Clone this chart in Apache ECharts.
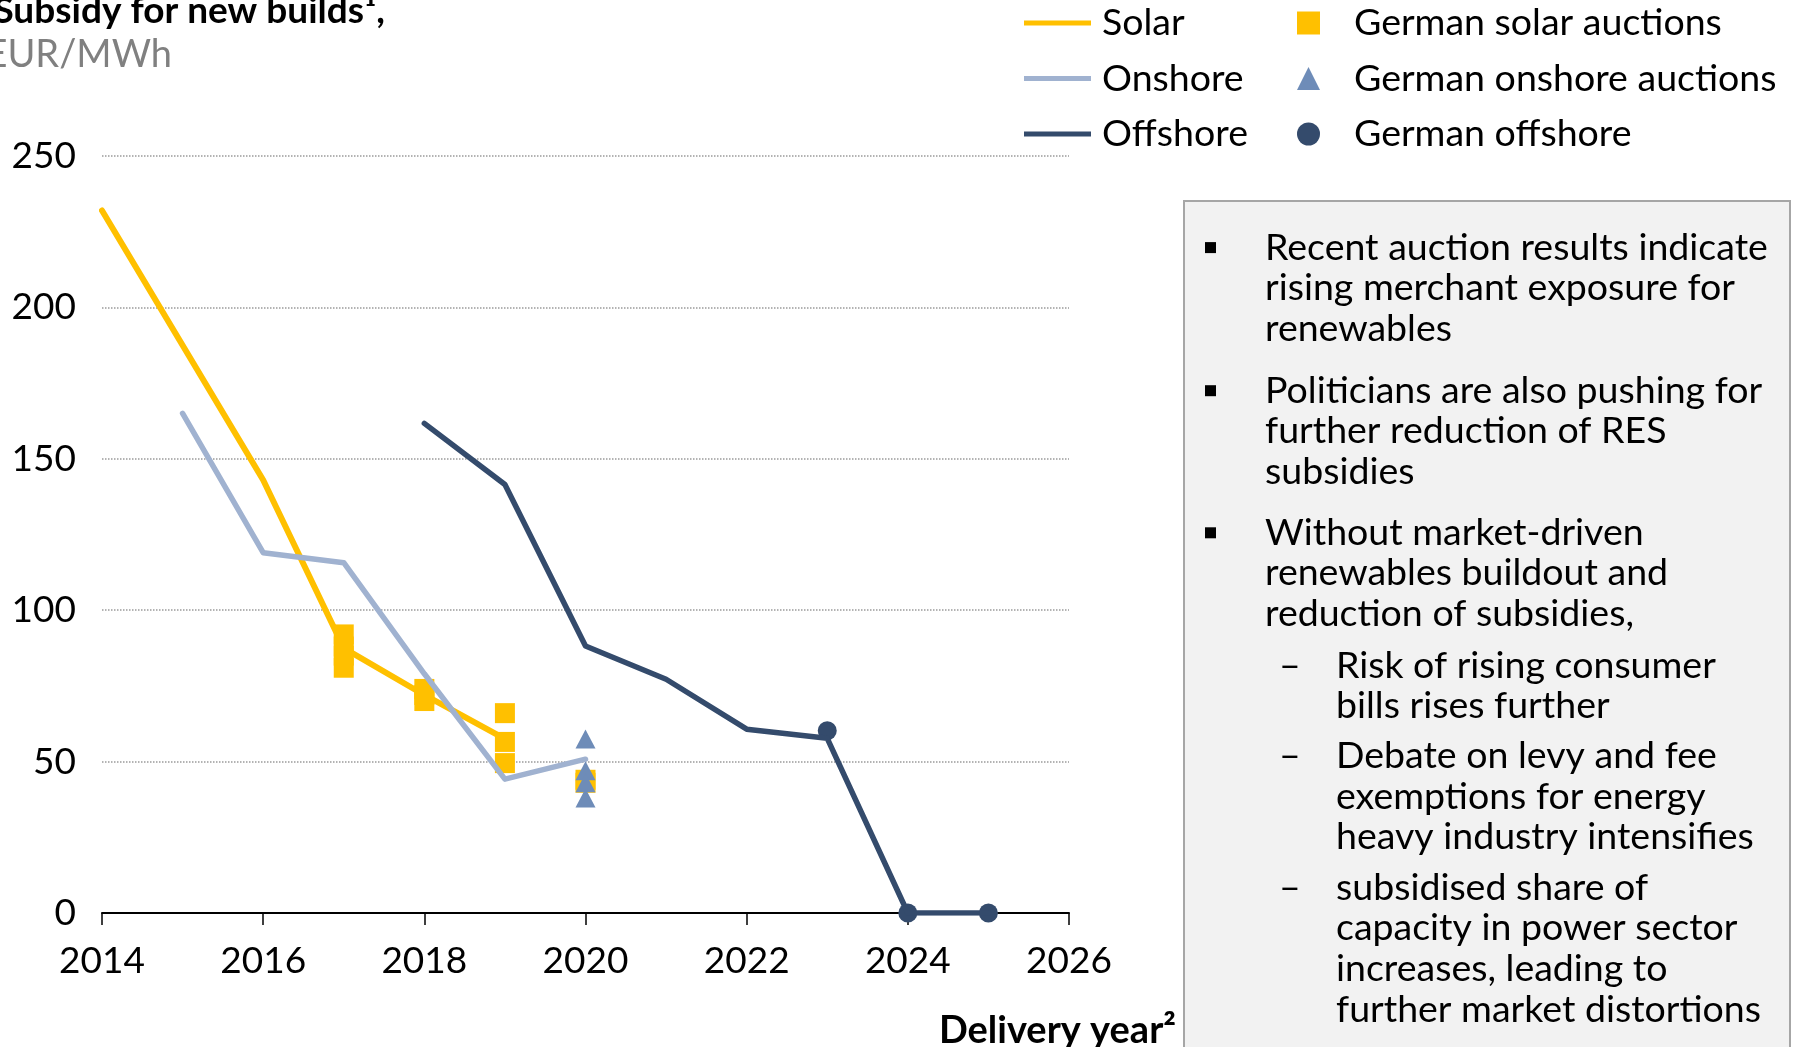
<!DOCTYPE html>
<html>
<head>
<meta charset="utf-8">
<script src="https://cdn.jsdelivr.net/npm/echarts@6/dist/echarts.min.js"></script>
<style>
html,body{margin:0;padding:0;background:#fff;}
#chart{width:1796px;height:1047px;}
</style>
</head>
<body>
<div id="chart"></div>
<script>
// ---- Data ----
const solarYears = [2014, 2016, 2017, 2018, 2019];
const solarValues = [232, 143, 87.5, 72, 57.5];
const onshoreYears = [2015, 2016, 2017, 2018, 2019, 2020];
const onshoreValues = [165, 119, 115.7, 79, 44.2, 50.8];
const offshoreYears = [2018, 2019, 2020, 2021, 2022, 2023, 2024, 2025];
const offshoreValues = [161.7, 141.5, 88.2, 77.2, 60.7, 57.7, 0, 0];
const solarAuctionYears = [2017, 2017, 2017, 2017, 2018, 2018, 2018, 2019, 2019, 2019, 2020, 2020];
const solarAuctionValues = [92, 88, 85, 81, 74, 72, 70, 66, 56.5, 49.5, 44, 43];
const onshoreAuctionYears = [2020, 2020, 2020, 2020];
const onshoreAuctionValues = [57.5, 47, 43, 38];
const offshoreAuctionYears = [2023, 2024, 2025];
const offshoreAuctionValues = [60.2, 0, 0];
const xMin = 2014, xMax = 2026, xStep = 2;
const yMin = 0, yMax = 250, yStep = 50;
const lineNames = ['Solar', 'Onshore', 'Offshore'];
const markerNames = ['German solar auctions', 'German onshore auctions', 'German offshore'];
const titleText = 'Subsidy for new builds\u00B9,';
const unitText = 'EUR/MWh';
const xAxisTitle = 'Delivery year\u00B2';
const bullets = [
  ['Recent auction results indicate', 'rising merchant exposure for', 'renewables'],
  ['Politicians are also pushing for', 'further reduction of RES', 'subsidies'],
  ['Without market-driven', 'renewables buildout and', 'reduction of subsidies,']
];
const subBullets = [
  ['Risk of rising consumer', 'bills rises further'],
  ['Debate on levy and fee', 'exemptions for energy', 'heavy industry intensifies'],
  ['subsidised share of', 'capacity in power sector', 'increases, leading to', 'further market distortions']
];

// ---- Styles ----
const C_SOLAR = '#FFC000';
const C_ONSHORE = '#A0B2D0';
const C_ONSHORE_M = '#6E8CB8';
const C_OFFSHORE = '#344B6C';
const FONT = 'Lato';
const BODY = 37.5;

const zip = (xs, ys) => xs.map((x, i) => [x, ys[i]]);

const chart = echarts.init(document.getElementById('chart'), null, {renderer: 'canvas'});

// text box graphics
const LH = 40.6;
const bulletTops = [227.3, 370.4, 512.5];
const subTops = [645.3, 735.8, 867.5];
const graphics = [
  {type: 'rect', shape: {x: 1184, y: 201, width: 606, height: 880}, style: {fill: '#F2F2F2', stroke: '#A6A6A6', lineWidth: 2}, z: 0},
  {type: 'text', style: {text: titleText, x: 385, y: 11, align: 'right', verticalAlign: 'middle', font: 'bold 37px ' + FONT, fill: '#000'}},
  {type: 'text', style: {text: unitText, x: 172, y: 55, align: 'right', verticalAlign: 'middle', font: '38px ' + FONT, fill: '#808080'}}
];
bullets.forEach((lines, i) => {
  graphics.push({type: 'rect', shape: {x: 1205, y: bulletTops[i] + LH / 2 - 5.5, width: 11, height: 11}, style: {fill: '#000'}, z: 1});
  graphics.push({type: 'text', style: {text: lines.join('\n'), x: 1265, y: bulletTops[i], verticalAlign: 'top', lineHeight: LH, font: BODY + 'px ' + FONT, fill: '#000'}, z: 1});
});
subBullets.forEach((lines, i) => {
  graphics.push({type: 'text', style: {text: '\u2013', x: 1279, y: subTops[i], verticalAlign: 'top', lineHeight: LH, font: BODY + 'px ' + FONT, fill: '#000'}, z: 1});
  graphics.push({type: 'text', style: {text: lines.join('\n'), x: 1336, y: subTops[i], verticalAlign: 'top', lineHeight: LH, font: BODY + 'px ' + FONT, fill: '#000'}, z: 1});
});

const option = {
  animation: false,
  backgroundColor: '#fff',
  textStyle: {fontFamily: FONT},
  grid: {left: 102, right: 727, top: 156, bottom: 134, containLabel: false, outerBoundsMode: 'none'},
  legend: [
    {
      data: lineNames.map(n => ({name: n, icon: 'rect'})),
      orient: 'vertical', left: 1019, top: -2,
      itemWidth: 67, itemHeight: 5, itemGap: 15.5,
      textStyle: {fontSize: BODY, fontFamily: FONT, color: '#000', lineHeight: 40, padding: [0, 0, 0, 6]},
      selectedMode: false
    },
    {
      data: [{name: markerNames[0], icon: 'rect'}, {name: markerNames[1], icon: 'triangle'}, {name: markerNames[2], icon: 'circle'}],
      orient: 'vertical', left: 1292, top: -2,
      itemWidth: 23, itemHeight: 23, itemGap: 15.5,
      itemStyle: {opacity: 1},
      textStyle: {fontSize: BODY, fontFamily: FONT, color: '#000', lineHeight: 40, padding: [0, 0, 0, 29]},
      selectedMode: false
    }
  ],
  xAxis: {
    type: 'value', min: xMin, max: xMax, interval: xStep,
    name: xAxisTitle, nameLocation: 'end', nameGap: 107,
    nameTextStyle: {fontSize: 38, fontWeight: 'bold', fontFamily: FONT, color: '#000', align: 'right', verticalAlign: 'top', padding: [99, 0, 0, 0]},
    axisLine: {show: true, lineStyle: {color: '#000', width: 2}},
    axisTick: {show: true, length: 12, lineStyle: {color: '#000', width: 1.5}},
    axisLabel: {fontSize: 37, fontFamily: FONT, color: '#000', margin: 30, formatter: v => String(v)},
    splitLine: {show: false}
  },
  yAxis: {
    type: 'value', min: yMin, max: yMax, interval: yStep,
    axisLine: {show: false}, axisTick: {show: false},
    axisLabel: {fontSize: 37, fontFamily: FONT, color: '#000', margin: 26},
    splitLine: {show: true, lineStyle: {color: '#9A9A9A', width: 1.5, type: [1.5, 1.5]}}
  },
  series: [
    {name: lineNames[0], type: 'line', data: zip(solarYears, solarValues), symbol: 'none', color: C_SOLAR,
      lineStyle: {color: C_SOLAR, width: 6, cap: 'round', join: 'round'}},
    {name: lineNames[1], type: 'line', data: zip(onshoreYears, onshoreValues), symbol: 'none', color: C_ONSHORE,
      lineStyle: {color: C_ONSHORE, width: 5.5, cap: 'round', join: 'round'}},
    {name: lineNames[2], type: 'line', data: zip(offshoreYears, offshoreValues), symbol: 'none', color: C_OFFSHORE,
      lineStyle: {color: C_OFFSHORE, width: 5.5, cap: 'round', join: 'round'}},
    {name: markerNames[0], type: 'scatter', data: zip(solarAuctionYears, solarAuctionValues), symbol: 'rect', symbolSize: 20,
      itemStyle: {color: C_SOLAR, opacity: 1}},
    {name: markerNames[1], type: 'scatter', data: zip(onshoreAuctionYears, onshoreAuctionValues), symbol: 'triangle', symbolSize: [20, 19],
      itemStyle: {color: C_ONSHORE_M, opacity: 1}},
    {name: markerNames[2], type: 'scatter', data: zip(offshoreAuctionYears, offshoreAuctionValues), symbol: 'circle', symbolSize: 19,
      itemStyle: {color: C_OFFSHORE, opacity: 1}}
  ],
  graphic: graphics
};
chart.setOption(option);
</script>
</body>
</html>
